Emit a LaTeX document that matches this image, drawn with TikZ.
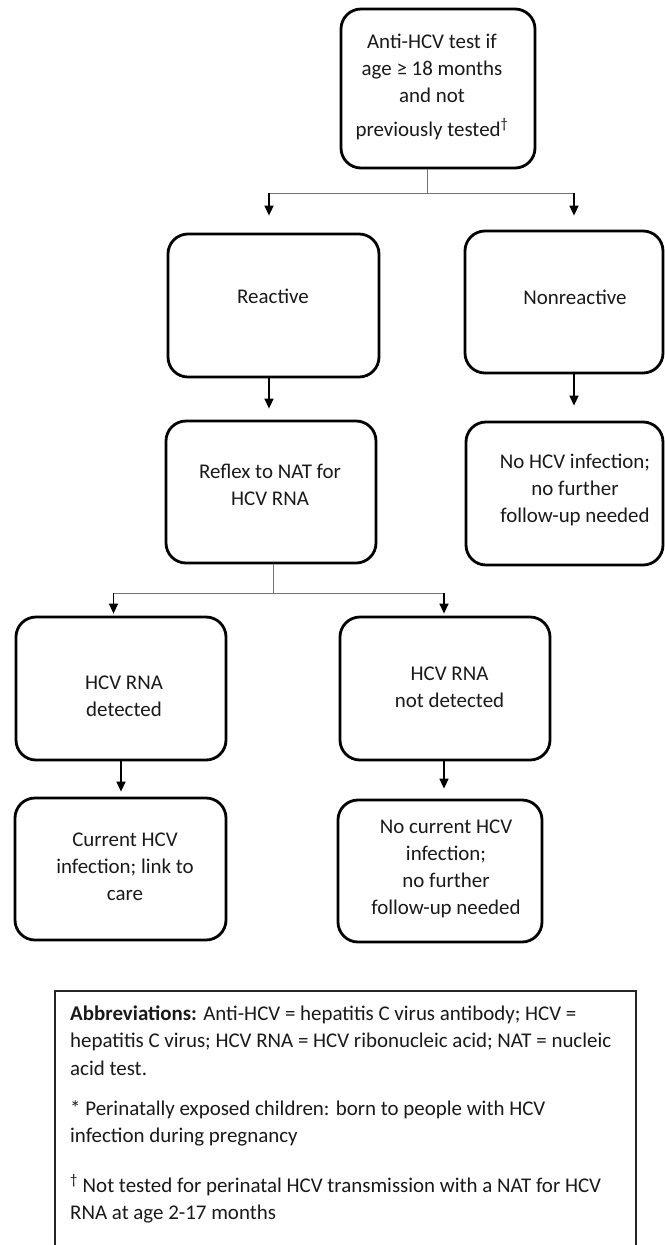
\documentclass[tikz,border=0pt]{standalone}
\usepackage{fontspec}
\setmainfont{Carlito}
\usetikzlibrary{arrows.meta,calc}
\begin{document}
\begin{tikzpicture}[x=1bp,y=-1bp,
  box/.style={draw=black, line width=2.8bp, rounded corners=20bp, inner sep=0pt},
  txt/.style={align=center, font=\fontsize{21}{27}\selectfont, text=black!90, inner sep=0pt},
  note/.style={align=left, font=\fontsize{21}{27.5}\selectfont, text=black!90, inner sep=0pt, anchor=west},
  arr/.style={draw=black, line width=1.4bp, -{Triangle[length=10bp,width=9bp]}},
  gline/.style={draw=black!55, line width=1bp},
  abox/.style={draw=black!85, line width=1.4bp},
]
\useasboundingbox (0,0) rectangle (665,1245);

% boxes
\node[box, minimum width=194bp, minimum height=159bp] (top)   at (438,88.5)  {};
\node[box, minimum width=211bp, minimum height=143bp] (react) at (273.5,305.5) {};
\node[box, minimum width=198bp, minimum height=142bp] (nonr)  at (564,302)   {};
\node[box, minimum width=210bp, minimum height=142bp] (reflex) at (271,492)  {};
\node[box, minimum width=197bp, minimum height=143bp] (nohcv) at (564.5,493.5) {};
\node[box, minimum width=210bp, minimum height=143bp] (det)   at (121,688.5) {};
\node[box, minimum width=210bp, minimum height=143bp] (ndet)  at (445,688.5) {};
\node[box, minimum width=211bp, minimum height=142bp] (cur)   at (120.5,869) {};
\node[box, minimum width=204bp, minimum height=142bp] (ncur)  at (440,871)   {};

% texts
\node[txt] (ttop) at (432,87) {Anti-HCV test if\\age ≥ 18 months\\and not\\[7bp]previously tested\textsuperscript{†}};
\node[txt] (treact) at (273,296) {Reactive};
\node[txt] (tnonr) at (575,297) {Nonreactive};
\node[txt] (treflex) at (270,484.5) {Reflex to NAT for\\HCV RNA};
\node[txt] (tnohcv) at (575,490) {No HCV infection;\\no further\\follow-up needed};
\node[txt] (tdet) at (124,696.5) {HCV RNA\\detected};
\node[txt] (tndet) at (449.5,687) {HCV RNA\\not detected};
\node[txt] (tcur) at (125,867) {Current HCV\\infection; link to\\care};
\node[txt] (tncur) at (446,869) {No current HCV\\infection;\\no further\\follow-up needed};

% connectors
\coordinate (j1) at (427,193);
\coordinate (jL) at (269,193);
\coordinate (jR) at (574,193);
\draw[gline] (top.south -| j1) -- (j1);
\draw[gline] (jL) -- (jR);
\draw[arr, shorten >=17bp] (jL) -- (react.north -| jL);
\draw[arr, shorten >=14bp] (jR) -- (nonr.north -| jR);

\coordinate (a1) at (269,0);
\coordinate (a2) at (574,0);
\draw[arr, shorten >=11bp] (react.south -| a1) -- (reflex.north -| a1);
\draw[arr, shorten >=15bp] (nonr.south -| a2) -- (nohcv.north -| a2);

\coordinate (j2) at (273.5,593);
\coordinate (kL) at (113.5,593);
\coordinate (kR) at (444,593);
\draw[gline] (reflex.south -| j2) -- (j2);
\draw[gline] (kL) -- (kR);
\draw[arr, shorten >=2bp] (kL) -- (det.north -| kL);
\draw[arr, shorten >=2bp] (kR) -- (ndet.north -| kR);

\coordinate (a3) at (121,0);
\coordinate (a4) at (444,0);
\draw[arr, shorten >=5bp] (det.south -| a3) -- (cur.north -| a3);
\draw[arr, shorten >=10bp] (ndet.south -| a4) -- (ncur.north -| a4);

% abbreviations box
\coordinate (bl) at (55,1245);
\coordinate (tl) at (55,991);
\coordinate (tr) at (636,991);
\coordinate (br) at (636,1245);
\draw[abox] (bl) -- (tl) -- (tr) -- (br);
\node[note] (n1) at (70,1040.5) {\textbf{Abbreviations:} Anti-HCV = hepatitis C virus antibody; HCV =\\hepatitis C virus; HCV RNA = HCV ribonucleic acid; NAT = nucleic\\acid test.};
\node[note] (n2) at (70,1123.5) {* Perinatally exposed children: born to people with HCV\\infection during pregnancy};
\node[note] (n3) at (70,1199) {\textsuperscript{†} Not tested for perinatal HCV transmission with a NAT for HCV\\RNA at age 2-17 months};
\end{tikzpicture}
\end{document}
